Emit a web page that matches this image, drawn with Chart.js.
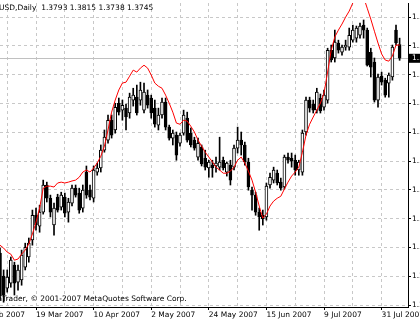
<!DOCTYPE html>
<html>
<head>
<meta charset="utf-8">
<script src="https://cdn.jsdelivr.net/npm/chart.js@4.4.0/dist/chart.umd.min.js"></script>
<style>
html, body { margin: 0; padding: 0; background: #fff; overflow: hidden; width: 420px; height: 323px; }
#wrap { position: absolute; left: -24px; top: 0; width: 444px; height: 323px; }
</style>
</head>
<body>
<div id="wrap"><canvas id="chart" width="444" height="323"></canvas></div>
<script>
// daily bars, one per trading day (index 0 = 5 Mar 2007)
const symbol = 'EURUSD,Daily';
const copyright = 'MetaTrader, \u00a9 2001-2007 MetaQuotes Software Corp.';

const opens = [
  1.3069, 1.2989, 1.2947, 1.2964, 1.3027, 1.2968, 1.2975, 1.3020, 1.3055, 1.3114,
  1.3200, 1.3162, 1.3211, 1.3305, 1.3259, 1.3166, 1.3263, 1.3228, 1.3263, 1.3211,
  1.3242, 1.3294, 1.3277, 1.3225, 1.3350, 1.3287, 1.3259, 1.3350, 1.3364, 1.3426,
  1.3461, 1.3530, 1.3496, 1.3589, 1.3565, 1.3572, 1.3555, 1.3600, 1.3610, 1.3600,
  1.3565, 1.3617, 1.3607, 1.3572, 1.3513, 1.3548, 1.3593, 1.3506, 1.3468, 1.3478,
  1.3450, 1.3485, 1.3537, 1.3485, 1.3461, 1.3402, 1.3437, 1.3398, 1.3364, 1.3374,
  1.3371, 1.3367, 1.3391, 1.3350, 1.3374, 1.3367, 1.3433, 1.3461, 1.3444, 1.3385,
  1.3287, 1.3270, 1.3211, 1.3200, 1.3194, 1.3305, 1.3322, 1.3346, 1.3315, 1.3298,
  1.3402, 1.3398, 1.3391, 1.3357, 1.3350, 1.3489, 1.3600, 1.3586, 1.3565, 1.3607,
  1.3575, 1.3600, 1.3773, 1.3746, 1.3798, 1.3766, 1.3784, 1.3784, 1.3808, 1.3815,
  1.3825, 1.3860, 1.3843, 1.3766, 1.3732, 1.3600, 1.3683, 1.3669, 1.3659, 1.3680,
  1.3843, 1.3793
];
const highs = [
  1.3086, 1.3010, 1.3010, 1.3055, 1.3037, 1.3027, 1.3079, 1.3103, 1.3121, 1.3218,
  1.3225, 1.3235, 1.3322, 1.3315, 1.3270, 1.3242, 1.3273, 1.3280, 1.3277, 1.3259,
  1.3305, 1.3305, 1.3294, 1.3305, 1.3371, 1.3305, 1.3371, 1.3381, 1.3444, 1.3496,
  1.3548, 1.3548, 1.3589, 1.3607, 1.3600, 1.3586, 1.3624, 1.3641, 1.3652, 1.3662,
  1.3659, 1.3635, 1.3617, 1.3600, 1.3572, 1.3607, 1.3607, 1.3513, 1.3496, 1.3489,
  1.3485, 1.3565, 1.3558, 1.3503, 1.3471, 1.3468, 1.3444, 1.3426, 1.3391, 1.3391,
  1.3402, 1.3471, 1.3402, 1.3385, 1.3391, 1.3444, 1.3506, 1.3489, 1.3454, 1.3398,
  1.3298, 1.3280, 1.3225, 1.3218, 1.3312, 1.3346, 1.3367, 1.3357, 1.3329, 1.3409,
  1.3416, 1.3416, 1.3409, 1.3391, 1.3496, 1.3610, 1.3610, 1.3600, 1.3641, 1.3621,
  1.3635, 1.3780, 1.3791, 1.3843, 1.3808, 1.3791, 1.3808, 1.3850, 1.3860, 1.3857,
  1.3867, 1.3878, 1.3850, 1.3780, 1.3746, 1.3690, 1.3697, 1.3676, 1.3694, 1.3791,
  1.3860, 1.3815
];
const lows = [
  1.2905, 1.2898, 1.2933, 1.2950, 1.2923, 1.2940, 1.2957, 1.3010, 1.3037, 1.3096,
  1.3148, 1.3141, 1.3204, 1.3246, 1.3194, 1.3131, 1.3211, 1.3218, 1.3194, 1.3176,
  1.3232, 1.3263, 1.3207, 1.3211, 1.3259, 1.3253, 1.3246, 1.3339, 1.3350, 1.3419,
  1.3450, 1.3468, 1.3485, 1.3548, 1.3530, 1.3496, 1.3537, 1.3579, 1.3548, 1.3582,
  1.3555, 1.3572, 1.3537, 1.3506, 1.3496, 1.3537, 1.3496, 1.3461, 1.3444, 1.3391,
  1.3440, 1.3478, 1.3454, 1.3437, 1.3426, 1.3391, 1.3371, 1.3357, 1.3332, 1.3332,
  1.3350, 1.3357, 1.3357, 1.3336, 1.3305, 1.3357, 1.3416, 1.3409, 1.3374, 1.3287,
  1.3218, 1.3200, 1.3148, 1.3166, 1.3183, 1.3294, 1.3312, 1.3305, 1.3287, 1.3291,
  1.3381, 1.3367, 1.3339, 1.3339, 1.3339, 1.3478, 1.3558, 1.3555, 1.3555, 1.3555,
  1.3565, 1.3589, 1.3732, 1.3732, 1.3763, 1.3756, 1.3773, 1.3773, 1.3801, 1.3801,
  1.3815, 1.3815, 1.3718, 1.3680, 1.3593, 1.3575, 1.3652, 1.3610, 1.3610, 1.3669,
  1.3791, 1.3738
];
const closes = [
  1.2919, 1.2923, 1.2985, 1.3044, 1.2964, 1.3010, 1.3062, 1.3089, 1.3103, 1.3200,
  1.3166, 1.3211, 1.3305, 1.3259, 1.3211, 1.3225, 1.3218, 1.3270, 1.3207, 1.3246,
  1.3294, 1.3270, 1.3218, 1.3287, 1.3270, 1.3263, 1.3357, 1.3364, 1.3426, 1.3471,
  1.3530, 1.3478, 1.3575, 1.3558, 1.3582, 1.3541, 1.3610, 1.3617, 1.3555, 1.3635,
  1.3628, 1.3582, 1.3555, 1.3516, 1.3548, 1.3593, 1.3506, 1.3468, 1.3485, 1.3409,
  1.3478, 1.3548, 1.3461, 1.3444, 1.3433, 1.3450, 1.3378, 1.3367, 1.3385, 1.3364,
  1.3381, 1.3385, 1.3364, 1.3381, 1.3322, 1.3433, 1.3461, 1.3444, 1.3385, 1.3298,
  1.3270, 1.3211, 1.3194, 1.3187, 1.3301, 1.3332, 1.3357, 1.3312, 1.3294, 1.3402,
  1.3391, 1.3388, 1.3357, 1.3385, 1.3485, 1.3600, 1.3572, 1.3565, 1.3628, 1.3562,
  1.3617, 1.3773, 1.3739, 1.3801, 1.3773, 1.3784, 1.3791, 1.3825, 1.3843, 1.3850,
  1.3857, 1.3843, 1.3721, 1.3714, 1.3600, 1.3680, 1.3662, 1.3617, 1.3687, 1.3784,
  1.3798, 1.3745
];
// red moving average
const ma = [
  1.3096, 1.3086, 1.3072, 1.3065, 1.3044, 1.3048, 1.3065, 1.3079, 1.3100, 1.3135,
  1.3176, 1.3225, 1.3294, 1.3301, 1.3301, 1.3298, 1.3312, 1.3315, 1.3312, 1.3315,
  1.3319, 1.3322, 1.3332, 1.3350, 1.3357, 1.3350, 1.3364, 1.3381, 1.3405, 1.3440,
  1.3496, 1.3558, 1.3600, 1.3635, 1.3659, 1.3662, 1.3683, 1.3704, 1.3697, 1.3711,
  1.3721, 1.3711, 1.3687, 1.3659, 1.3648, 1.3641, 1.3617, 1.3589, 1.3558, 1.3520,
  1.3516, 1.3530, 1.3527, 1.3509, 1.3489, 1.3461, 1.3440, 1.3419, 1.3402, 1.3385,
  1.3367, 1.3357, 1.3346, 1.3346, 1.3353, 1.3367, 1.3391, 1.3402, 1.3381, 1.3353,
  1.3322, 1.3280, 1.3232, 1.3190, 1.3204, 1.3232, 1.3249, 1.3259, 1.3266, 1.3291,
  1.3315, 1.3336, 1.3350, 1.3367, 1.3419, 1.3478, 1.3516, 1.3541, 1.3565, 1.3589,
  1.3624, 1.3697, 1.3773, 1.3819, 1.3843, 1.3864, 1.3888, 1.3909, 1.3937, 1.3961,
  1.3975, 1.3957, 1.3919, 1.3881, 1.3839, 1.3798, 1.3760, 1.3739, 1.3735, 1.3753,
  1.3791, 1.3791
];

// x axis: grid every 8 bars, date label every 16 bars
const gridIdx = [-6, 2, 10, 18, 26, 34, 42, 50, 58, 66, 74, 82, 90, 98, 106];
const tickIdx = [-6, 10, 26, 42, 58, 74, 90, 106];
const tickLabels = ['23 Feb 2007', '19 Mar 2007', '10 Apr 2007', '2 May 2007',
                    '24 May 2007', '15 Jun 2007', '9 Jul 2007', '31 Jul 2007'];
// price axis
const yTicks = [1.2888, 1.2988, 1.3088, 1.3188, 1.3288, 1.3388, 1.3488, 1.3588, 1.3688, 1.3788, 1.3888];

const FONT = 'DejaVu Sans';
const last = closes.length - 1;

const wicks = highs.map((h, i) => ({ x: i, y: [lows[i], h] }));
const bodies = opens.map((o, i) => ({ x: i, y: [Math.min(o, closes[i]), Math.max(o, closes[i])] }));
const bodyColors = opens.map((o, i) => closes[i] >= o ? '#ffffff' : '#000000');

// title, copyright, current price line and marker
const overlay = {
  id: 'overlay',
  beforeDatasetsDraw(chart) {
    const { ctx, chartArea: a, scales: { y } } = chart;
    const py = Math.round(y.getPixelForValue(closes[last])) + 0.5;
    ctx.save();
    ctx.strokeStyle = '#c0c0c0';
    ctx.lineWidth = 1;
    ctx.beginPath();
    ctx.moveTo(a.left, py);
    ctx.lineTo(a.right, py);
    ctx.stroke();
    ctx.restore();
  },
  afterDraw(chart) {
    const { ctx, chartArea: a, scales: { y } } = chart;
    const py = y.getPixelForValue(closes[last]);
    ctx.save();
    ctx.font = '7.5px "' + FONT + '"';
    ctx.textBaseline = 'middle';
    ctx.textAlign = 'left';
    ctx.fillStyle = '#000';
    ctx.fillRect(a.right + 1, py - 4.5, 14, 9);
    ctx.fillStyle = '#fff';
    ctx.fillText(closes[last].toFixed(4), a.right + 4, py);

    ctx.fillStyle = '#000';
    const title = symbol + '  ' + [opens[last], highs[last], lows[last], closes[last]].map(v => v.toFixed(4)).join(' ');
    ctx.fillText(title, a.left + 23 - ctx.measureText('EUR').width, 8);
    ctx.fillText(copyright, a.left + 26 - ctx.measureText('Meta').width, 299);
    ctx.restore();
  }
};

new Chart(document.getElementById('chart'), {
  type: 'bar',
  data: {
    datasets: [
      {
        type: 'line',
        data: ma.map((v, i) => ({ x: i, y: v })),
        borderColor: '#ff0000',
        borderWidth: 1,
        pointRadius: 0,
        tension: 0,
        order: 0
      },
      {
        data: bodies,
        backgroundColor: bodyColors,
        borderColor: '#000000',
        borderWidth: 1,
        borderSkipped: false,
        barThickness: 3,
        grouped: false,
        order: 1
      },
      {
        data: wicks,
        backgroundColor: '#000000',
        borderWidth: 0,
        barThickness: 1,
        grouped: false,
        order: 2
      }
    ]
  },
  options: {
    responsive: false,
    animation: false,
    events: [],
    layout: { padding: { top: 3, left: 0, right: 0, bottom: 0 } },
    plugins: { legend: { display: false }, tooltip: { enabled: false } },
    scales: {
      x: {
        type: 'linear',
        min: -6.67,
        max: 113.33,
        offset: false,
        afterBuildTicks: s => { s.ticks = gridIdx.map(v => ({ value: v })); },
        afterFit: s => { s.height = 16; s.paddingLeft = 0; s.paddingRight = 0; },
        ticks: {
          autoSkip: false,
          maxRotation: 0,
          align: 'start',
          padding: 1,
          color: '#000',
          font: { family: FONT, size: 7.5 },
          callback: v => { const k = tickIdx.indexOf(v); return k < 0 ? '' : tickLabels[k]; }
        },
        grid: {
          offset: false,
          color: '#c8c8c8',
          lineWidth: 1,
          tickLength: 3,
          tickColor: c => tickIdx.includes(c.tick && c.tick.value) ? '#000' : 'rgba(0,0,0,0)'
        },
        border: { display: true, color: '#000', width: 1, dash: [3, 3] }
      },
      y: {
        position: 'right',
        min: 1.28814,
        max: 1.39370,
        afterBuildTicks: s => { s.ticks = yTicks.map(v => ({ value: v })); },
        afterFit: s => { s.width = 12; s.paddingTop = 0; s.paddingBottom = 0; },
        ticks: {
          padding: 1,
          color: '#000',
          font: { family: FONT, size: 7.5 },
          callback: v => v.toFixed(4)
        },
        grid: { color: '#c8c8c8', lineWidth: 1, tickLength: 3, tickColor: '#000' },
        border: { display: true, color: '#000', width: 1, dash: [3, 3] }
      }
    }
  },
  plugins: [overlay]
});
</script>
</body>
</html>
